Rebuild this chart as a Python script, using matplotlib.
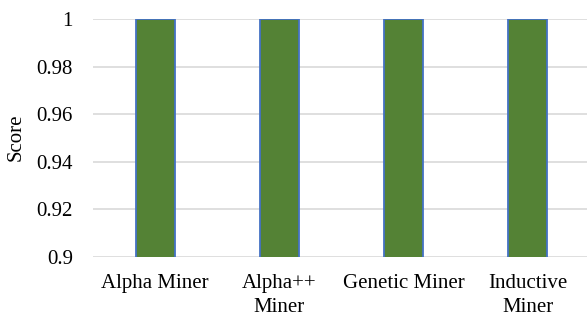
import numpy as np
import matplotlib.pyplot as plt

plt.rcParams['font.family'] = ['Liberation Serif', 'DejaVu Serif']

categorias = ["Alpha Miner", "Alpha++\nMiner", "Genetic Miner", "Inductive\nMiner"]
scores = [1.0, 1.0, 1.0, 1.0]
yticks = [0.9, 0.92, 0.94, 0.96, 0.98, 1.0]
ytick_labels = ["0.9", "0.92", "0.94", "0.96", "0.98", "1"]

fig = plt.figure(figsize=(5.87, 3.21), dpi=100)
ax = fig.add_axes([93 / 587, 1 - 257 / 321, 497 / 587, (257 - 19) / 321])

x = np.arange(len(categorias))
ax.bar(x, scores, width=0.314, bottom=0, color='#548235',
       edgecolor='#4472c4', linewidth=1.3, zorder=3)

ax.set_ylim(0.9, 1.0)
ax.set_xlim(-0.5, len(categorias) - 0.5)
ax.set_yticks(yticks)
ax.set_yticklabels(ytick_labels)
ax.set_xticks(x)
ax.set_xticklabels(categorias, linespacing=1.35)
ax.tick_params(axis='both', length=0, labelsize=15, colors='black')
ax.tick_params(axis='y', pad=14.4)
ax.tick_params(axis='x', pad=12)
ax.grid(axis='y', color='#d9d9d9', linewidth=1.2, zorder=0)
for s in ax.spines.values():
    s.set_visible(False)
ax.set_ylabel("Score", fontsize=15)
ax.yaxis.set_label_coords(-0.135, 0.504)

plt.savefig('out.png', dpi=100, facecolor='white')
plt.close()
